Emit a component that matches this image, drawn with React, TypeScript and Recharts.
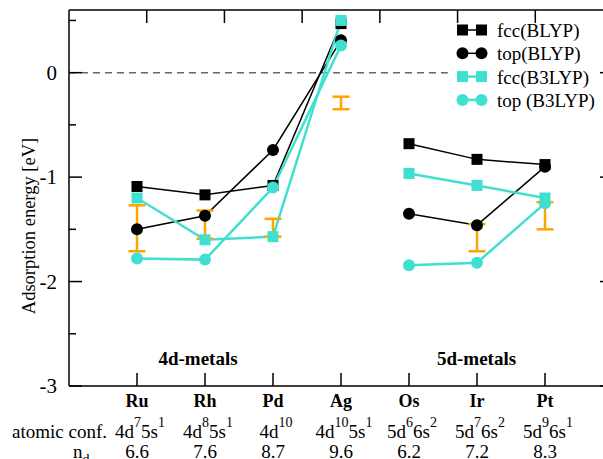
import React from "react";
import {
  ComposedChart,
  Line,
  Scatter,
  ErrorBar,
  XAxis,
  YAxis,
  ReferenceLine,
} from "recharts";

const elements = ["Ru", "Rh", "Pd", "Ag", "Os", "Ir", "Pt"];
const configs: [string, string][][] = [
  [["4d", "7"], ["5s", "1"]],
  [["4d", "8"], ["5s", "1"]],
  [["4d", "10"]],
  [["4d", "10"], ["5s", "1"]],
  [["5d", "6"], ["6s", "2"]],
  [["5d", "7"], ["6s", "2"]],
  [["5d", "9"], ["6s", "1"]],
];
const ndValues = ["6.6", "7.6", "8.7", "9.6", "6.2", "7.2", "8.3"];

const fccBLYP = [-1.09, -1.17, -1.08, 0.47, -0.68, -0.83, -0.88];
const topBLYP = [-1.5, -1.37, -0.74, 0.31, -1.35, -1.46, -0.9];
const fccB3LYP = [-1.2, -1.6, -1.57, 0.5, -0.965, -1.08, -1.2];
const topB3LYP = [-1.78, -1.79, -1.1, 0.26, -1.845, -1.82, -1.25];
const errLow = [-1.71, -1.59, -1.57, -0.35, null, -1.71, -1.5];
const errHigh = [-1.27, -1.32, -1.4, -0.23, null, -1.45, -1.24];

const yTicks = [-3, -2.5, -2, -1.5, -1, -0.5, 0, 0.5];
const xTicks = [1, 2, 3, 4, 5, 6, 7];

const CYAN = "#40E0D0";
const ORANGE = "#FFA500";
const FONT = "'Liberation Serif', 'Times New Roman', serif";

// rows for the lines, with an empty row between Ag and Os to break them
const rows: any[] = [];
elements.forEach((_, i) => {
  rows.push({
    x: i + 1,
    fccBLYP: fccBLYP[i],
    topBLYP: topBLYP[i],
    fccB3LYP: fccB3LYP[i],
    topB3LYP: topB3LYP[i],
  });
  if (i === 3) rows.push({ x: 4.5, fccBLYP: null, topBLYP: null, fccB3LYP: null, topB3LYP: null });
});

const errRows = elements
  .map((_, i) => {
    const lo = errLow[i];
    const hi = errHigh[i];
    if (lo == null || hi == null) return null;
    const mid = (lo + hi) / 2;
    return { x: i + 1, y: mid, err: [mid - lo, hi - mid] };
  })
  .filter(Boolean);

const legendItems = [
  { name: "fcc(BLYP)", color: "#000", square: true },
  { name: "top(BLYP)", color: "#000", square: false },
  { name: "fcc(B3LYP)", color: CYAN, square: true },
  { name: "top (B3LYP)", color: CYAN, square: false },
];

function squareDot(color: string, size: number) {
  return (p: any) => {
    if (p.cy == null || p.cx == null) return <g key={p.key ?? p.index} />;
    return (
      <rect
        key={p.key ?? p.index}
        x={p.cx - size / 2}
        y={p.cy - size / 2}
        width={size}
        height={size}
        fill={color}
      />
    );
  };
}

function LeftTick({ x, y, payload }: any) {
  const v = payload.value;
  const major = Number.isInteger(v);
  return (
    <g>
      <line x1={x} y1={y} x2={x + (major ? 13 : 7)} y2={y} stroke="#000" strokeWidth={1.5} />
      {major && (
        <text x={x - 12} y={y + 7} textAnchor="end" fontSize={21} fontFamily={FONT} fill="#000">
          {String(v)}
        </text>
      )}
    </g>
  );
}

function RightTick({ x, y, payload }: any) {
  const major = Number.isInteger(payload.value);
  return <line x1={x} y1={y} x2={x - (major ? 13 : 7)} y2={y} stroke="#000" strokeWidth={1.5} />;
}

function TopTick({ x, y }: any) {
  return <line x1={x} y1={y} x2={x} y2={y + 13} stroke="#000" strokeWidth={1.5} />;
}

function BottomTick({ x, y, payload }: any) {
  const i = Math.round(payload.value) - 1;
  return (
    <g fontFamily={FONT} fill="#000">
      <line x1={x} y1={y} x2={x} y2={y - 13} stroke="#000" strokeWidth={1.5} />
      <text x={x} y={y + 21} textAnchor="middle" fontWeight="bold" fontSize={18}>
        {elements[i]}
      </text>
      <text x={x + 3} y={y + 52} textAnchor="middle" fontSize={19}>
        {configs[i].map(([b, s], k) => [
          <tspan key={"b" + k} dy={k === 0 ? 0 : 11}>{b}</tspan>,
          <tspan key={"s" + k} dy={-11} fontSize={14}>{s}</tspan>,
        ])}
      </text>
      <text x={x} y={y + 72} textAnchor="middle" fontSize={19}>
        {ndValues[i]}
      </text>
    </g>
  );
}

export default function App() {
  return (
    <div style={{ position: "absolute", left: 0, top: 0, width: 603, height: 459, overflow: "hidden", background: "#fff" }}>
      <ComposedChart width={614} height={459} data={rows} margin={{ top: 9, right: 0, left: 0, bottom: 0 }}>
        <XAxis
          dataKey="x"
          type="number"
          domain={[0, 8]}
          ticks={xTicks}
          height={73}
          tickSize={0}
          tickMargin={0}
          tickLine={false}
          tick={<BottomTick />}
          axisLine={{ stroke: "#000", strokeWidth: 1.5 }}
          interval={0}
        />
        <XAxis
          xAxisId="top"
          orientation="top"
          type="number"
          domain={[0, 8]}
          ticks={xTicks}
          height={1}
          tickSize={0}
          tickMargin={0}
          tickLine={false}
          tick={<TopTick />}
          axisLine={{ stroke: "#000", strokeWidth: 1.5 }}
          interval={0}
        />
        <YAxis
          type="number"
          domain={[-3, 0.6]}
          ticks={yTicks}
          width={69}
          tickSize={0}
          tickMargin={0}
          tickLine={false}
          tick={<LeftTick />}
          axisLine={{ stroke: "#000", strokeWidth: 1.5 }}
          interval={0}
          allowDataOverflow
        />
        <YAxis
          yAxisId="right"
          orientation="right"
          type="number"
          domain={[-3, 0.6]}
          ticks={yTicks}
          width={1}
          tickSize={0}
          tickMargin={0}
          tickLine={false}
          tick={<RightTick />}
          axisLine={{ stroke: "#000", strokeWidth: 1.5 }}
          interval={0}
          allowDataOverflow
        />
        <ReferenceLine
          segment={[{ x: 0, y: 0 }, { x: 5.57, y: 0 }]}
          stroke="#666"
          strokeWidth={1.5}
          strokeDasharray="7 5"
        />
        <Line
          dataKey="fccBLYP"
          type="linear"
          stroke="#000"
          strokeWidth={1.5}
          dot={squareDot("#000", 11)}
          isAnimationActive={false}
        />
        <Line
          dataKey="topBLYP"
          type="linear"
          stroke="#000"
          strokeWidth={1.5}
          dot={{ r: 6, fill: "#000", stroke: "none" }}
          isAnimationActive={false}
        />
        <Line
          dataKey="fccB3LYP"
          type="linear"
          stroke={CYAN}
          strokeWidth={2.5}
          dot={squareDot(CYAN, 11)}
          isAnimationActive={false}
        />
        <Line
          dataKey="topB3LYP"
          type="linear"
          stroke={CYAN}
          strokeWidth={2.5}
          dot={{ r: 6, fill: CYAN, stroke: "none" }}
          isAnimationActive={false}
        />
        <Scatter data={errRows} dataKey="y" fill="none" isAnimationActive={false}>
          <ErrorBar dataKey="err" direction="y" width={8.5} stroke={ORANGE} strokeWidth={2.5} />
        </Scatter>
      </ComposedChart>

      <svg
        width={603}
        height={459}
        style={{ position: "absolute", left: 0, top: 0, pointerEvents: "none" }}
        fontFamily={FONT}
      >
        <text transform="translate(29,226) rotate(-90)" textAnchor="middle" dominantBaseline="central" fontSize={18.5} fill="#000">
          Adsorption energy [eV]
        </text>
        <text x={198} y={365} textAnchor="middle" fontWeight="bold" fontSize={19} fill="#000">
          4d-metals
        </text>
        <text x={476.5} y={365} textAnchor="middle" fontWeight="bold" fontSize={19} fill="#000">
          5d-metals
        </text>
        <text x={12} y={438} fontSize={19} fill="#000">atomic conf.</text>
        <text x={73} y={458} fontSize={19} fill="#000">
          n<tspan dy={6} fontSize={14}>d</tspan>
        </text>
        {legendItems.map((it, k) => {
          const cy = 30 + k * 23.3;
          return (
            <g key={it.name}>
              <line x1={462} y1={cy} x2={482} y2={cy} stroke={it.color} strokeWidth={it.color === CYAN ? 2.5 : 1.5} />
              {it.square ? (
                <>
                  <rect x={457} y={cy - 5.5} width={11} height={11} fill={it.color} />
                  <rect x={476} y={cy - 5.5} width={11} height={11} fill={it.color} />
                </>
              ) : (
                <>
                  <circle cx={462.5} cy={cy} r={6} fill={it.color} />
                  <circle cx={481.5} cy={cy} r={6} fill={it.color} />
                </>
              )}
              <text x={497} y={cy + 7} fontSize={19} fill="#000">{it.name}</text>
            </g>
          );
        })}
      </svg>
    </div>
  );
}
